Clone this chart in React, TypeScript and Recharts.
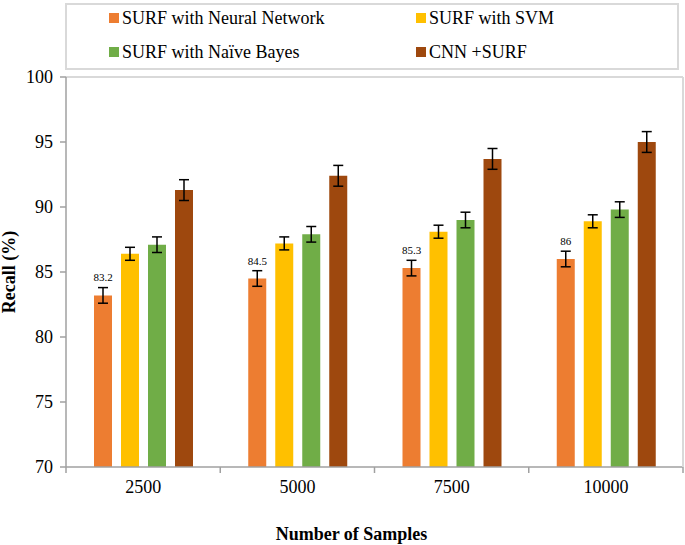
import {
  BarChart,
  Bar,
  XAxis,
  YAxis,
  Legend,
  ErrorBar,
  LabelList,
  ReferenceLine,
} from 'recharts';

const CATEGORIES = ['2500', '5000', '7500', '10000'];
const NEURAL = [83.2, 84.5, 85.3, 86];
const SVM = [86.4, 87.2, 88.1, 88.9];
const BAYES = [87.1, 87.9, 89.0, 89.8];
const CNN = [91.3, 92.4, 93.7, 95.0];

const NEURAL_ERR = [0.6, 0.6, 0.6, 0.6];
const SVM_ERR = [0.5, 0.5, 0.5, 0.5];
const BAYES_ERR = [0.6, 0.6, 0.6, 0.6];
const CNN_ERR = [0.8, 0.8, 0.8, 0.8];

const Y_TICKS = [70, 75, 80, 85, 90, 95, 100];

const SERIES = [
  { key: 'neural', name: 'SURF with Neural Network', color: '#ED7D31' },
  { key: 'svm', name: 'SURF with SVM', color: '#FFC000' },
  { key: 'bayes', name: 'SURF with Naïve Bayes', color: '#70AD47' },
  { key: 'cnn', name: 'CNN +SURF', color: '#9E480E' },
];

const data = CATEGORIES.map((name, i) => ({
  name,
  neural: NEURAL[i],
  neuralErr: NEURAL_ERR[i],
  svm: SVM[i],
  svmErr: SVM_ERR[i],
  bayes: BAYES[i],
  bayesErr: BAYES_ERR[i],
  cnn: CNN[i],
  cnnErr: CNN_ERR[i],
}));

const FONT = '"Liberation Serif", "Times New Roman", serif';
const AXIS_GREY = '#a0a0a0';
const FRAME_GREY = '#d9d9d9';

function LegendBox() {
  // order in the picture: row by row, two columns
  return (
    <div
      style={{
        display: 'grid',
        gridTemplateColumns: '307px 250px',
        gridTemplateRows: '26px 42px',
        paddingLeft: 42,
        fontFamily: FONT,
        fontSize: 18,
        color: '#000',
      }}
    >
      {SERIES.map((s) => (
        <div key={s.key} style={{ display: 'flex', alignItems: 'center', whiteSpace: 'nowrap' }}>
          <span style={{ width: 10, height: 10, background: s.color, marginRight: 3, display: 'inline-block' }} />
          {s.name}
        </div>
      ))}
    </div>
  );
}

function XTick(props: any) {
  const { x, y, payload, index, visibleTicksCount } = props;
  const half = payload.offset ?? 0;
  const last = index === visibleTicksCount - 1;
  return (
    <g>
      <line x1={x - half} y1={y} x2={x - half} y2={y + 6} stroke={AXIS_GREY} strokeWidth={1.5} />
      {last && <line x1={x + half} y1={y} x2={x + half} y2={y + 6} stroke={AXIS_GREY} strokeWidth={1.5} />}
      <text x={x} y={y + 26} textAnchor="middle" fontSize={18} fill="#000" fontFamily={FONT}>
        {payload.value}
      </text>
    </g>
  );
}

function YTitle(props: any) {
  const { viewBox } = props;
  const x = viewBox.x + 15;
  const y = viewBox.y + viewBox.height / 2;
  return (
    <text
      x={x}
      y={y}
      transform={`rotate(-90 ${x} ${y})`}
      textAnchor="middle"
      fontSize={18}
      fontWeight="bold"
      fontFamily={FONT}
      fill="#000"
    >
      Recall (%)
    </text>
  );
}

export default function App() {
  return (
    <div style={{ position: 'absolute', left: 0, top: 0, background: '#fff' }}>
      <BarChart
        width={685}
        height={545}
        data={data}
        margin={{ top: 77, right: 0, bottom: 0, left: 0 }}
        barSize={18}
        barGap={9}
        style={{ fontFamily: FONT }}
      >
        <XAxis
          dataKey="name"
          height={78}
          tickLine={false}
          tickSize={0}
          tickMargin={0}
          tick={<XTick />}
          interval={0}
          axisLine={{ stroke: AXIS_GREY, strokeWidth: 1.5 }}
          label={{
            value: 'Number of Samples',
            position: 'insideBottom',
            offset: 5,
            dx: -23,
            fontSize: 18,
            fontWeight: 'bold',
            fill: '#000',
            fontFamily: FONT,
          }}
        />
        <YAxis
          width={66}
          domain={[70, 100]}
          ticks={Y_TICKS}
          allowDataOverflow
          tickSize={6}
          tickMargin={7}
          tick={{ fontSize: 18, fill: '#000', fontFamily: FONT }}
          tickLine={{ stroke: AXIS_GREY, strokeWidth: 1.5 }}
          axisLine={{ stroke: AXIS_GREY, strokeWidth: 1.5 }}
          label={<YTitle />}
        />
        <YAxis
          yAxisId="frame"
          orientation="right"
          width={2}
          tick={false}
          tickLine={false}
          axisLine={{ stroke: FRAME_GREY, strokeWidth: 2 }}
        />
        <ReferenceLine y={100} stroke={FRAME_GREY} strokeWidth={2} />
        <Legend
          layout="vertical"
          align="center"
          verticalAlign="middle"
          content={<LegendBox />}
          wrapperStyle={{
            left: 65,
            top: 3,
            width: 614,
            height: 67,
            border: `2px solid ${FRAME_GREY}`,
            boxSizing: 'border-box',
            background: '#fff',
          }}
        />
        <Bar dataKey="neural" name={SERIES[0].name} fill={SERIES[0].color} isAnimationActive={false}>
          <ErrorBar dataKey="neuralErr" width={5} stroke="#000" strokeWidth={1.5} />
          <LabelList dataKey="neural" position="top" offset={14} fontSize={11} fill="#000" fontFamily={FONT} />
        </Bar>
        <Bar dataKey="svm" name={SERIES[1].name} fill={SERIES[1].color} isAnimationActive={false}>
          <ErrorBar dataKey="svmErr" width={5} stroke="#000" strokeWidth={1.5} />
        </Bar>
        <Bar dataKey="bayes" name={SERIES[2].name} fill={SERIES[2].color} isAnimationActive={false}>
          <ErrorBar dataKey="bayesErr" width={5} stroke="#000" strokeWidth={1.5} />
        </Bar>
        <Bar dataKey="cnn" name={SERIES[3].name} fill={SERIES[3].color} isAnimationActive={false}>
          <ErrorBar dataKey="cnnErr" width={5} stroke="#000" strokeWidth={1.5} />
        </Bar>
      </BarChart>
    </div>
  );
}
